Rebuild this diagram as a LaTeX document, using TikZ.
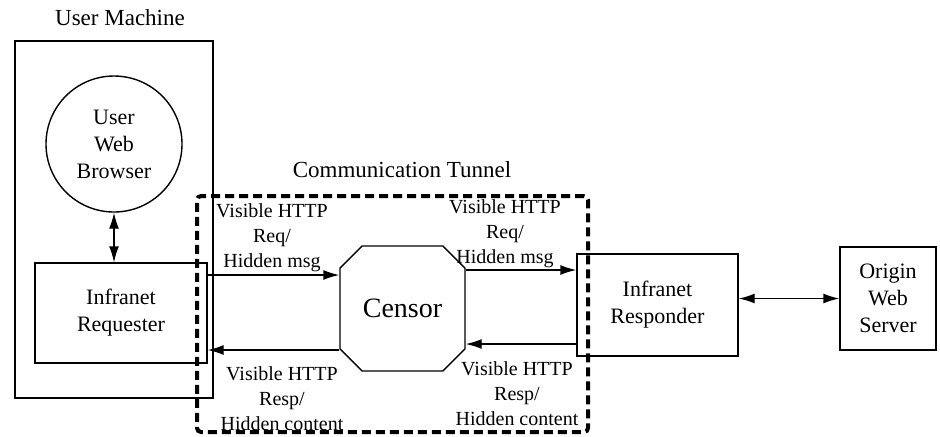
\documentclass[tikz,border=0pt]{standalone}
\usepackage{fontspec}
\setmainfont{Liberation Serif}
\usetikzlibrary{arrows.meta, shapes.misc}

\tikzset{
  box/.style={draw, line width=0.7pt, align=center, font=\fontsize{11}{13.5}\selectfont},
  msg/.style={align=center, inner sep=0pt, font=\fontsize{10}{12.5}\selectfont},
  tunnel/.style={draw, line width=2pt, dash pattern=on 4.5pt off 2.5pt, rounded corners=2pt},
}

\begin{document}
\begin{tikzpicture}[>={Latex[length=8pt,width=5pt]}, x=0.5pt, y=-0.5pt, line width=0.7pt]
\useasboundingbox (0,0) rectangle (940,436);

\node[box, minimum width=99pt, minimum height=178.5pt] (um) at (114,219.5) {};
\node[font=\fontsize{11.5}{14}\selectfont] (umlbl) at (120,18) {User Machine};
\node[box, circle, minimum size=68pt, inner sep=0pt] (brw) at (114,144) {User\\Web\\Browser};
\node[box, minimum width=86pt, minimum height=50pt] (req) at (121,313) {Infranet\\Requester};

\node[tunnel, minimum width=195.5pt, minimum height=118pt] (tun) at (392.5,314) {};
\node[font=\fontsize{11.5}{14}\selectfont] (tunlbl) at (402,170) {Communication Tunnel};

\node[draw, chamfered rectangle, chamfered rectangle xsep=12.5pt, minimum width=62.5pt, minimum height=62.5pt, font=\fontsize{14}{16}\selectfont] (cen) at (402.5,308.5) {Censor};

\node[box, minimum width=80.5pt, minimum height=51pt] (rsp) at (657.5,305) {Infranet\\Responder};
\node[box, minimum width=48pt, minimum height=51.5pt] (srv) at (888,298.5) {Origin\\Web\\Server};

\draw[<->] (brw.south) -- (brw.south |- req.north);
\draw[->] ([yshift=19pt]req.east) coordinate (rq1) -- (rq1 -| cen.west);
\draw[->] ([yshift=-20.75pt]cen.west) coordinate (cn1) -- (cn1 -| req.east);
\draw[->] ([yshift=19.25pt]cen.east) coordinate (cn2) -- (cn2 -| rsp.west);
\draw[->] ([yshift=-19.5pt]rsp.west) coordinate (rs1) -- (rs1 -| cen.east);
\draw[<->] (srv.west -| rsp.east) -- (srv.west);

\node[msg] (m1) at (272,238) {Visible HTTP\\Req/\\Hidden msg};
\node[msg] (m2) at (505,234) {Visible HTTP\\Req/\\Hidden msg};
\node[msg] (m3) at (282,399) {Visible HTTP\\Resp/\\Hidden content};
\node[msg] (m4) at (517,394) {Visible HTTP\\Resp/\\Hidden content};

\end{tikzpicture}
\end{document}
